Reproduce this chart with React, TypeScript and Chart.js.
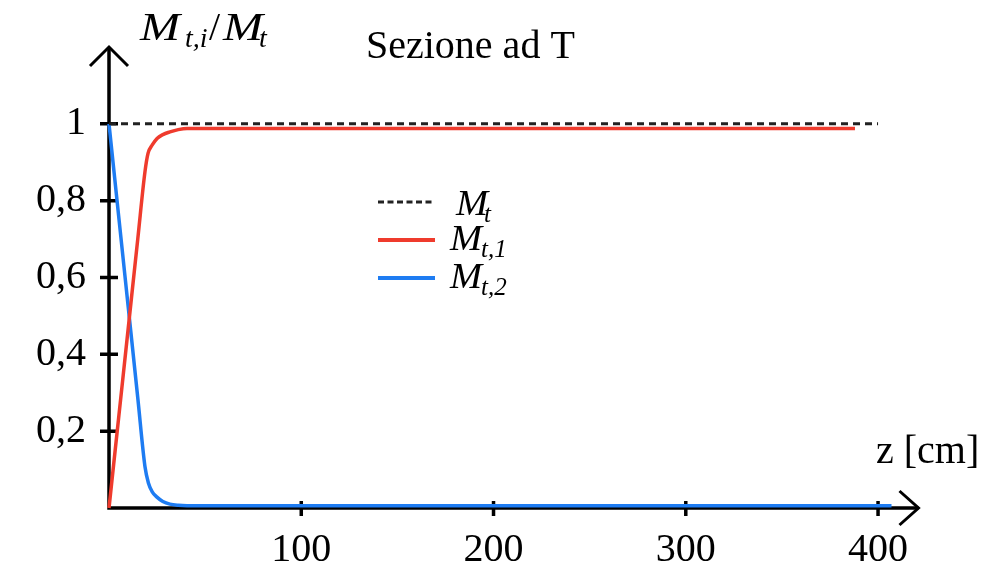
import React, { useEffect, useRef } from "react";
import { Chart, registerables } from "chart.js";

Chart.register(...registerables);

// ---- data ----
const zMt = [0, 400];
const mtValues = [1, 1];

const zM1 = [0, 5, 10, 15, 18.7, 20.3, 22.5, 25, 28, 31.7, 36, 40.6, 100, 200, 300, 388];
const m1Values = [0, 0.234, 0.468, 0.702, 0.875, 0.923, 0.945, 0.962, 0.972, 0.979, 0.985, 0.988, 0.988, 0.988, 0.988, 0.988];

const zM2 = [0, 5, 10, 15, 18.7, 20.5, 22.5, 24.8, 28, 31.7, 36, 40.6, 100, 200, 300, 407];
const m2Values = [1, 0.761, 0.523, 0.285, 0.108, 0.065, 0.042, 0.029, 0.017, 0.01, 0.007, 0.006, 0.006, 0.006, 0.006, 0.006];

const xTicks = [100, 200, 300, 400];
const yTicks = [0.2, 0.4, 0.6, 0.8, 1];

const titleText = "Sezione ad T";
const xAxisTitle = "z [cm]";
const legendSubs = ["t", "t,1", "t,2"];

const RED = "#ef3b2d";
const BLUE = "#1e7cf2";
const SERIF = "'Liberation Serif', 'DejaVu Serif', serif";

const toXY = (xs: number[], ys: number[]) => xs.map((x, i) => ({ x, y: ys[i] }));

const decorPlugin = {
  id: "decor",
  beforeDatasetsDraw(chart: any) {
    const ctx = chart.ctx;
    const xs = chart.scales.x;
    const ys = chart.scales.y;
    const x0 = xs.getPixelForValue(0);
    const y0 = ys.getPixelForValue(0);
    const xEnd = xs.right + 2;
    const yEnd = ys.top;
    ctx.save();
    ctx.strokeStyle = "#000";
    ctx.lineWidth = 3.5;
    ctx.lineCap = "butt";
    // axes
    ctx.beginPath();
    ctx.moveTo(x0, y0 + 1.75);
    ctx.lineTo(x0, yEnd);
    ctx.moveTo(x0 - 1.75, y0);
    ctx.lineTo(xEnd, y0);
    ctx.stroke();
    // arrows
    ctx.lineWidth = 3;
    ctx.beginPath();
    ctx.moveTo(x0 - 19, yEnd + 19);
    ctx.lineTo(x0, yEnd);
    ctx.lineTo(x0 + 19, yEnd + 19);
    ctx.moveTo(xEnd - 19, y0 - 17);
    ctx.lineTo(xEnd, y0);
    ctx.lineTo(xEnd - 19, y0 + 17);
    ctx.stroke();
    // tick marks
    ctx.lineWidth = 3.5;
    ctx.beginPath();
    xTicks.forEach((v) => {
      const px = xs.getPixelForValue(v);
      ctx.moveTo(px, y0 - 7);
      ctx.lineTo(px, y0 + 8);
    });
    yTicks.forEach((v) => {
      const py = ys.getPixelForValue(v);
      ctx.moveTo(x0 - 9, py);
      ctx.lineTo(x0 + 9, py);
    });
    ctx.stroke();
    ctx.restore();
  },
  afterDraw(chart: any) {
    const ctx = chart.ctx;
    ctx.save();
    ctx.fillStyle = "#000";
    ctx.textBaseline = "alphabetic";
    ctx.textAlign = "left";
    // title
    ctx.font = `40px ${SERIF}`;
    ctx.fillText(titleText, 366, 58);
    // x axis title
    ctx.fillText(xAxisTitle, 876, 463);
    // y axis title: M_{t,i}/M_t
    ctx.save();
    ctx.translate(140, 40);
    ctx.scale(1.2, 1);
    ctx.font = `italic 40px ${SERIF}`;
    ctx.fillText("M", 0, 0);
    ctx.restore();
    ctx.font = `italic 28px ${SERIF}`;
    ctx.fillText("t,i", 185, 47);
    ctx.font = `40px ${SERIF}`;
    ctx.fillText("/", 209, 40);
    ctx.save();
    ctx.translate(223, 40);
    ctx.scale(1.2, 1);
    ctx.font = `italic 40px ${SERIF}`;
    ctx.fillText("M", 0, 0);
    ctx.restore();
    ctx.font = `italic 28px ${SERIF}`;
    ctx.fillText("t", 259, 47);

    // legend
    const rows = [
      { y: 202, color: "#222", dash: [6, 3.5], width: 3, base: 215 },
      { y: 240, color: RED, dash: [], width: 4, base: 250 },
      { y: 278, color: BLUE, dash: [], width: 4, base: 288 },
    ];
    rows.forEach((r, i) => {
      ctx.save();
      ctx.strokeStyle = r.color;
      ctx.lineWidth = r.width;
      ctx.setLineDash(r.dash);
      ctx.beginPath();
      ctx.moveTo(378, r.y);
      ctx.lineTo(435, r.y);
      ctx.stroke();
      ctx.restore();
      ctx.save();
      ctx.translate(i === 0 ? 456 : 450, r.base);
      ctx.scale(1.1, 1);
      ctx.font = `italic 35px ${SERIF}`;
      ctx.fillText("M", 0, 0);
      ctx.restore();
      ctx.font = `italic 25px ${SERIF}`;
      ctx.fillText(legendSubs[i], i === 0 ? 484 : 481, r.base + 7);
    });
    ctx.restore();
  },
};

export default function App() {
  const ref = useRef<HTMLCanvasElement | null>(null);
  useEffect(() => {
    document.body.style.margin = "0";
    const canvas = ref.current;
    if (!canvas) return;
    const chart = new Chart(canvas, {
      type: "line",
      data: {
        datasets: [
          {
            label: "M_t",
            data: toXY(zMt, mtValues),
            borderColor: "#222",
            borderWidth: 3,
            borderDash: [7, 5],
            pointRadius: 0,
            tension: 0,
            clip: false as any,
          },
          {
            label: "M_t,1",
            data: toXY(zM1, m1Values),
            borderColor: RED,
            borderWidth: 3.5,
            pointRadius: 0,
            cubicInterpolationMode: "monotone",
            clip: false as any,
          },
          {
            label: "M_t,2",
            data: toXY(zM2, m2Values),
            borderColor: BLUE,
            borderWidth: 3.5,
            pointRadius: 0,
            cubicInterpolationMode: "monotone",
            clip: false as any,
          },
        ],
      },
      options: {
        animation: false,
        responsive: false,
        devicePixelRatio: 1,
        layout: { padding: { top: 47, right: 88.5, left: 0, bottom: 0 } },
        plugins: {
          legend: { display: false },
          tooltip: { enabled: false },
          title: { display: false },
        },
        scales: {
          x: {
            type: "linear",
            min: 0,
            max: 420,
            grid: { display: false, drawTicks: false },
            border: { display: false },
            afterBuildTicks: (s: any) => {
              s.ticks = xTicks.map((v) => ({ value: v }));
            },
            afterFit: (s: any) => {
              s.height = 61;
            },
            ticks: {
              color: "#000",
              padding: 18,
              maxRotation: 0,
              autoSkip: false,
              font: { family: SERIF, size: 40 },
              callback: (v: any) => String(v),
            },
          },
          y: {
            type: "linear",
            min: 0,
            max: 1.2,
            grid: { display: false, drawTicks: false },
            border: { display: false },
            afterBuildTicks: (s: any) => {
              s.ticks = yTicks.map((v) => ({ value: v }));
            },
            afterFit: (s: any) => {
              s.width = 109;
            },
            ticks: {
              color: "#000",
              padding: 23,
              autoSkip: false,
              font: { family: SERIF, size: 40 },
              callback: (v: any) => (Math.abs(v - 1) < 1e-9 ? "1" : Number(v).toFixed(1).replace(".", ",")),
            },
          },
        },
      },
      plugins: [decorPlugin],
    } as any);
    return () => chart.destroy();
  }, []);
  return (
    <div style={{ width: 1005, height: 569, background: "#fff" }}>
      <canvas ref={ref} width={1005} height={569} style={{ display: "block", width: 1005, height: 569 }} />
    </div>
  );
}
